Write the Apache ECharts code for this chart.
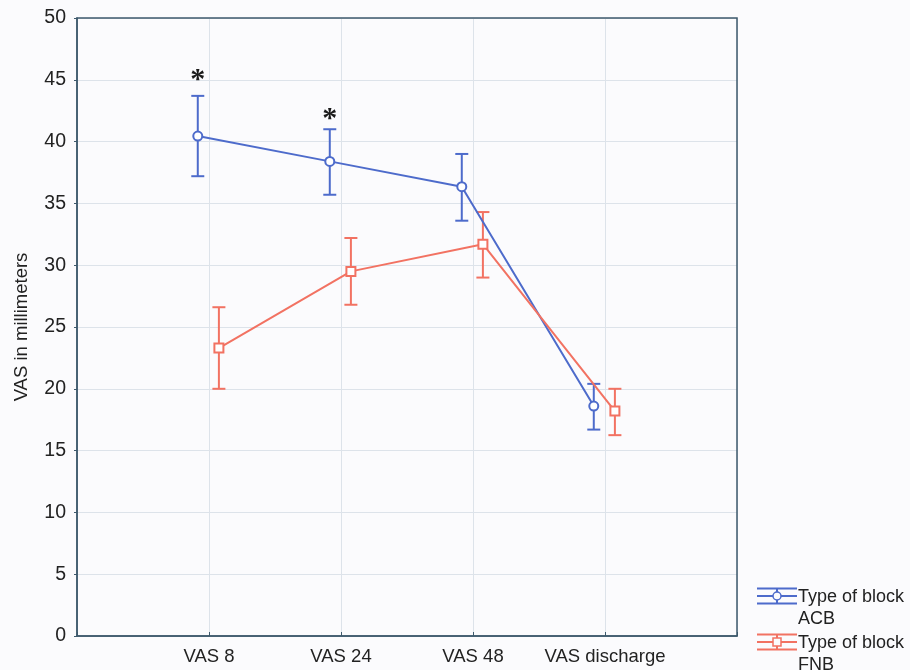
<!DOCTYPE html>
<html><head><meta charset="utf-8">
<script src="https://cdn.jsdelivr.net/npm/echarts@6/dist/echarts.min.js"></script>
<style>html,body{margin:0;padding:0;background:#fbfbfd}#c{width:910px;height:670px}</style>
</head><body><div id="c"></div>
<script>
const categories = ['VAS 8', 'VAS 24', 'VAS 48', 'VAS discharge'];
const acbMean = [40.45, 38.4, 36.35, 18.6];
const acbLow  = [37.2, 35.7, 33.6, 16.7];
const acbHigh = [43.7, 41.0, 39.0, 20.4];
const fnbMean = [23.3, 29.5, 31.7, 18.2];
const fnbLow  = [20.0, 26.8, 29.0, 16.25];
const fnbHigh = [26.6, 32.2, 34.3, 20.0];
const starCategory = [0, 1];
const starValue = [45.5, 42.4];
const yTicks = [0, 5, 10, 15, 20, 25, 30, 35, 40, 45, 50];
const legendNames = ['Type of block\nACB', 'Type of block\nFNB'];

const BLUE = '#4d6bcb', RED = '#f27262', AXIS = '#3e5a6c';
const FONT = 'Liberation Sans, Arial, sans-serif';
const OFF_A = -0.085, OFF_F = 0.075;

function pts(mean, off) { return mean.map((v, i) => [i + 1 + off, v]); }
function bars(lo, hi, off) { return lo.map((v, i) => [i + 1 + off, v, hi[i]]); }
function errSeries(name, data, color) {
  return {
    type: 'custom', name: name, data: data, z: 3,
    renderItem: function (params, api) {
      const x = api.value(0);
      const a = api.coord([x, api.value(1)]);
      const b = api.coord([x, api.value(2)]);
      const w = 6.5;
      const st = { stroke: color, lineWidth: 2 };
      return { type: 'group', children: [
        { type: 'line', shape: { x1: a[0], y1: a[1], x2: b[0], y2: b[1] }, style: st },
        { type: 'line', shape: { x1: a[0] - w, y1: a[1], x2: a[0] + w, y2: a[1] }, style: st },
        { type: 'line', shape: { x1: b[0] - w, y1: b[1], x2: b[0] + w, y2: b[1] }, style: st }
      ]};
    }
  };
}
function legendItem(x, y, color, square, text) {
  const st = { stroke: color, lineWidth: 2 };
  const cx = x + 20;
  return { type: 'group', silent: true, children: [
    { type: 'line', shape: { x1: x, y1: y - 7.5, x2: x + 40, y2: y - 7.5 }, style: st },
    { type: 'line', shape: { x1: x, y1: y, x2: x + 40, y2: y }, style: st },
    { type: 'line', shape: { x1: x, y1: y + 7.5, x2: x + 40, y2: y + 7.5 }, style: st },
    { type: 'line', shape: { x1: cx, y1: y - 7.5, x2: cx, y2: y + 7.5 }, style: st },
    square
      ? { type: 'rect', shape: { x: cx - 4, y: y - 4, width: 8, height: 8 }, style: { fill: '#fbfbfd', stroke: color, lineWidth: 1.5 } }
      : { type: 'circle', shape: { cx: cx, cy: y, r: 4 }, style: { fill: '#fbfbfd', stroke: color, lineWidth: 1.5 } },
    { type: 'text', x: x + 41, y: y - 10, style: { text: text, fill: '#222', font: '18px ' + FONT, lineHeight: 22, verticalAlign: 'top' } }
  ]};
}

const chart = echarts.init(document.getElementById('c'), null, { renderer: 'canvas' });
chart.setOption({
  backgroundColor: '#fbfbfd',
  animation: false,
  grid: { left: 77, top: 18, width: 660, height: 618, containLabel: false, outerBoundsMode: 'none' },
  xAxis: {
    type: 'value', min: 0, max: 5, interval: 1,
    axisLine: { show: true, lineStyle: { color: AXIS, width: 1.5 } },
    axisTick: { show: true, inside: true, length: 4, lineStyle: { color: AXIS } },
    splitLine: { show: true, lineStyle: { color: '#dde3ea', width: 1 } },
    axisLabel: {
      color: '#222', fontSize: 18.5, fontFamily: FONT, margin: 11,
      formatter: v => (v >= 1 && v <= categories.length) ? categories[v - 1] : ''
    }
  },
  yAxis: {
    type: 'value', min: yTicks[0], max: yTicks[yTicks.length - 1], interval: 5,
    name: 'VAS in millimeters', nameLocation: 'middle', nameGap: 46,
    nameTextStyle: { color: '#222', fontSize: 18.5, fontFamily: FONT },
    axisLine: { show: true, lineStyle: { color: AXIS, width: 1.5 } },
    axisTick: { show: true, length: 3, lineStyle: { color: AXIS } },
    splitLine: { show: true, lineStyle: { color: '#dde3ea', width: 1 } },
    axisLabel: { color: '#222', fontSize: 19.5, fontFamily: FONT, margin: 11 }
  },
  graphic: [
    { type: 'rect', shape: { x: 77, y: 18, width: 660, height: 618 },
      style: { fill: 'none', stroke: AXIS, lineWidth: 1.5 }, z: 10, silent: true },
    legendItem(757, 596, BLUE, false, legendNames[0]),
    legendItem(757, 642, RED, true, legendNames[1])
  ],
  series: [
    { name: legendNames[0], type: 'line', data: pts(acbMean, OFF_A), color: BLUE,
      symbol: 'emptyCircle', symbolSize: 9, lineStyle: { color: BLUE, width: 2 },
      itemStyle: { color: BLUE, borderWidth: 1.5 }, z: 4 },
    { name: legendNames[1], type: 'line', data: pts(fnbMean, OFF_F), color: RED,
      symbol: 'emptyRect', symbolSize: 9, lineStyle: { color: RED, width: 2 },
      itemStyle: { color: RED, borderWidth: 1.5 }, z: 4 },
    errSeries('errA', bars(acbLow, acbHigh, OFF_A), BLUE),
    errSeries('errF', bars(fnbLow, fnbHigh, OFF_F), RED),
    { name: 'stars', type: 'custom', z: 5,
      data: starCategory.map((c, i) => [c + 1 + OFF_A, starValue[i]]),
      renderItem: function (params, api) {
        const p = api.coord([api.value(0), api.value(1)]);
        return { type: 'text', x: p[0], y: p[1] + 7,
          style: { text: '*', fill: '#1a1a1a', font: 'bold 30px "Liberation Serif", serif', align: 'center', verticalAlign: 'middle' } };
      }
    }
  ]
});
</script></body></html>
